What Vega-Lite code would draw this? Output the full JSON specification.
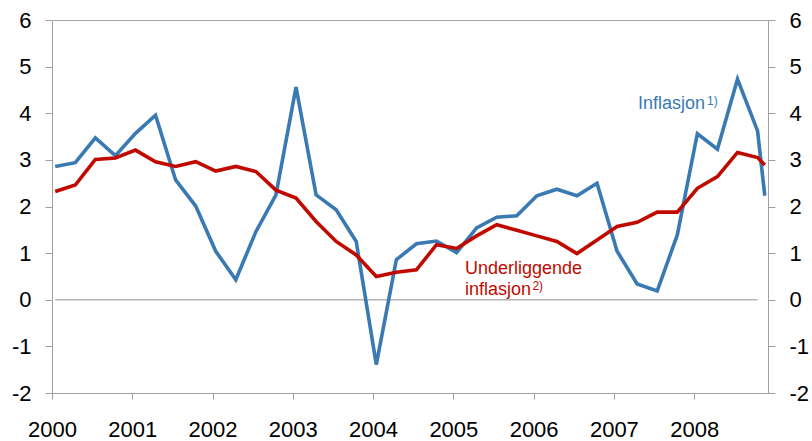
{
  "$schema": "https://vega.github.io/schema/vega-lite/v6.json",
  "width": 716,
  "height": 373,
  "autosize": {"type": "none"},
  "padding": {"left": 52, "top": 20, "right": 44, "bottom": 48},
  "background": "white",
  "config": {
    "view": {"stroke": "#a6a6a6", "strokeWidth": 1},
    "font": "Liberation Sans",
    "axis": {"labelFont": "Liberation Sans", "labelColor": "#000000", "domainColor": "#a0a0a0", "tickColor": "#a0a0a0", "grid": false, "title": null}
  },
  "datasets": {
    "series": [
      {"x": 2000.04, "s": "Inflasjon", "v": 2.86}, {"x": 2000.04, "s": "Underliggende", "v": 2.32},
      {"x": 2000.29, "s": "Inflasjon", "v": 2.94}, {"x": 2000.29, "s": "Underliggende", "v": 2.46},
      {"x": 2000.54, "s": "Inflasjon", "v": 3.47}, {"x": 2000.54, "s": "Underliggende", "v": 3.01},
      {"x": 2000.79, "s": "Inflasjon", "v": 3.09}, {"x": 2000.79, "s": "Underliggende", "v": 3.04},
      {"x": 2001.04, "s": "Inflasjon", "v": 3.57}, {"x": 2001.04, "s": "Underliggende", "v": 3.21},
      {"x": 2001.29, "s": "Inflasjon", "v": 3.96}, {"x": 2001.29, "s": "Underliggende", "v": 2.96},
      {"x": 2001.54, "s": "Inflasjon", "v": 2.57}, {"x": 2001.54, "s": "Underliggende", "v": 2.86},
      {"x": 2001.79, "s": "Inflasjon", "v": 2.01}, {"x": 2001.79, "s": "Underliggende", "v": 2.96},
      {"x": 2002.04, "s": "Inflasjon", "v": 1.04}, {"x": 2002.04, "s": "Underliggende", "v": 2.76},
      {"x": 2002.29, "s": "Inflasjon", "v": 0.43}, {"x": 2002.29, "s": "Underliggende", "v": 2.86},
      {"x": 2002.54, "s": "Inflasjon", "v": 1.46}, {"x": 2002.54, "s": "Underliggende", "v": 2.75},
      {"x": 2002.79, "s": "Inflasjon", "v": 2.25}, {"x": 2002.79, "s": "Underliggende", "v": 2.35},
      {"x": 2003.04, "s": "Inflasjon", "v": 4.56}, {"x": 2003.04, "s": "Underliggende", "v": 2.18},
      {"x": 2003.29, "s": "Inflasjon", "v": 2.25}, {"x": 2003.29, "s": "Underliggende", "v": 1.68},
      {"x": 2003.54, "s": "Inflasjon", "v": 1.93}, {"x": 2003.54, "s": "Underliggende", "v": 1.25},
      {"x": 2003.79, "s": "Inflasjon", "v": 1.25}, {"x": 2003.79, "s": "Underliggende", "v": 0.96},
      {"x": 2004.04, "s": "Inflasjon", "v": -1.39}, {"x": 2004.04, "s": "Underliggende", "v": 0.50},
      {"x": 2004.29, "s": "Inflasjon", "v": 0.86}, {"x": 2004.29, "s": "Underliggende", "v": 0.59},
      {"x": 2004.54, "s": "Inflasjon", "v": 1.20}, {"x": 2004.54, "s": "Underliggende", "v": 0.64},
      {"x": 2004.79, "s": "Inflasjon", "v": 1.26}, {"x": 2004.79, "s": "Underliggende", "v": 1.18},
      {"x": 2005.04, "s": "Inflasjon", "v": 1.01}, {"x": 2005.04, "s": "Underliggende", "v": 1.10},
      {"x": 2005.29, "s": "Inflasjon", "v": 1.54}, {"x": 2005.29, "s": "Underliggende", "v": 1.37},
      {"x": 2005.54, "s": "Inflasjon", "v": 1.77}, {"x": 2005.54, "s": "Underliggende", "v": 1.61},
      {"x": 2005.79, "s": "Inflasjon", "v": 1.80}, {"x": 2005.79, "s": "Underliggende", "v": 1.49},
      {"x": 2006.04, "s": "Inflasjon", "v": 2.23}, {"x": 2006.04, "s": "Underliggende", "v": 1.37},
      {"x": 2006.29, "s": "Inflasjon", "v": 2.37}, {"x": 2006.29, "s": "Underliggende", "v": 1.25},
      {"x": 2006.54, "s": "Inflasjon", "v": 2.23}, {"x": 2006.54, "s": "Underliggende", "v": 0.99},
      {"x": 2006.79, "s": "Inflasjon", "v": 2.50}, {"x": 2006.79, "s": "Underliggende", "v": 1.28},
      {"x": 2007.04, "s": "Inflasjon", "v": 1.04}, {"x": 2007.04, "s": "Underliggende", "v": 1.57},
      {"x": 2007.29, "s": "Inflasjon", "v": 0.34}, {"x": 2007.29, "s": "Underliggende", "v": 1.66},
      {"x": 2007.54, "s": "Inflasjon", "v": 0.19}, {"x": 2007.54, "s": "Underliggende", "v": 1.88},
      {"x": 2007.79, "s": "Inflasjon", "v": 1.39}, {"x": 2007.79, "s": "Underliggende", "v": 1.88},
      {"x": 2008.04, "s": "Inflasjon", "v": 3.56}, {"x": 2008.04, "s": "Underliggende", "v": 2.39},
      {"x": 2008.29, "s": "Inflasjon", "v": 3.23}, {"x": 2008.29, "s": "Underliggende", "v": 2.64},
      {"x": 2008.54, "s": "Inflasjon", "v": 4.73}, {"x": 2008.54, "s": "Underliggende", "v": 3.16},
      {"x": 2008.79, "s": "Inflasjon", "v": 3.62}, {"x": 2008.79, "s": "Underliggende", "v": 3.05},
      {"x": 2008.88, "s": "Inflasjon", "v": 2.23}, {"x": 2008.88, "s": "Underliggende", "v": 2.89}
    ],
    "zero": [{"x": 2000.04, "x2": 2008.79, "v": 0}],
    "labels": [
      {"x": 2007.30, "v": 4.09, "s": "Inflasjon", "t": "Inflasjon"},
      {"x": 2005.144, "v": 0.558, "s": "Underliggende", "t": "Underliggende"},
      {"x": 2005.144, "v": 0.107, "s": "Underliggende", "t": "inflasjon"}
    ],
    "supers": [
      {"x": 2008.16, "v": 4.17, "s": "Inflasjon", "t": "1)"},
      {"x": 2005.985, "v": 0.20, "s": "Underliggende", "t": "2)"}
    ]
  },
  "resolve": {"scale": {"y": "independent"}},
  "layer": [
    {
      "data": {"name": "zero"},
      "mark": {"type": "rule", "color": "#b4b4b4", "strokeWidth": 1.5},
      "encoding": {
        "x": {"field": "x", "type": "quantitative", "scale": {"domain": [2000, 2008.92], "nice": false, "zero": false},
          "axis": {"values": [2000, 2001, 2002, 2003, 2004, 2005, 2006, 2007, 2008], "format": "d", "labelFontSize": 22, "tickSize": 6, "labelPadding": 20, "labelFlush": false, "labelOverlap": false}},
        "x2": {"field": "x2"},
        "y": {"field": "v", "type": "quantitative", "scale": {"domain": [-2, 6], "nice": false, "zero": false},
          "axis": {"orient": "right", "values": [-2, -1, 0, 1, 2, 3, 4, 5, 6], "labelExpr": "'' + datum.value", "labelFontSize": 22, "tickSize": 7, "labelPadding": 14, "labelFlush": false, "labelOverlap": false}}
      }
    },
    {
      "data": {"name": "series"},
      "mark": {"type": "line", "strokeWidth": 3.6, "strokeJoin": "miter", "strokeCap": "butt"},
      "encoding": {
        "x": {"field": "x", "type": "quantitative", "scale": {"domain": [2000, 2008.92], "nice": false, "zero": false}},
        "y": {"field": "v", "type": "quantitative", "scale": {"domain": [-2, 6], "nice": false, "zero": false},
          "axis": {"orient": "left", "values": [-2, -1, 0, 1, 2, 3, 4, 5, 6], "labelExpr": "'' + datum.value", "labelFontSize": 22, "tickSize": 7, "labelPadding": 14, "labelFlush": false, "labelOverlap": false}},
        "color": {"field": "s", "type": "nominal", "scale": {"domain": ["Inflasjon", "Underliggende"], "range": ["#3a7ab2", "#c00a00"]}, "legend": null},
        "order": {"field": "x", "type": "quantitative"}
      }
    },
    {
      "data": {"name": "labels"},
      "mark": {"type": "text", "fontSize": 18, "align": "left", "baseline": "alphabetic"},
      "encoding": {
        "x": {"field": "x", "type": "quantitative", "scale": {"domain": [2000, 2008.92], "nice": false, "zero": false}},
        "y": {"field": "v", "type": "quantitative", "scale": {"domain": [-2, 6], "nice": false, "zero": false}, "axis": null},
        "text": {"field": "t"},
        "color": {"field": "s", "type": "nominal", "scale": {"domain": ["Inflasjon", "Underliggende"], "range": ["#3a7ab2", "#c00a00"]}, "legend": null}
      }
    },
    {
      "data": {"name": "supers"},
      "mark": {"type": "text", "fontSize": 12, "align": "left", "baseline": "alphabetic"},
      "encoding": {
        "x": {"field": "x", "type": "quantitative", "scale": {"domain": [2000, 2008.92], "nice": false, "zero": false}},
        "y": {"field": "v", "type": "quantitative", "scale": {"domain": [-2, 6], "nice": false, "zero": false}, "axis": null},
        "text": {"field": "t"},
        "color": {"field": "s", "type": "nominal", "scale": {"domain": ["Inflasjon", "Underliggende"], "range": ["#3a7ab2", "#c00a00"]}, "legend": null}
      }
    }
  ]
}
